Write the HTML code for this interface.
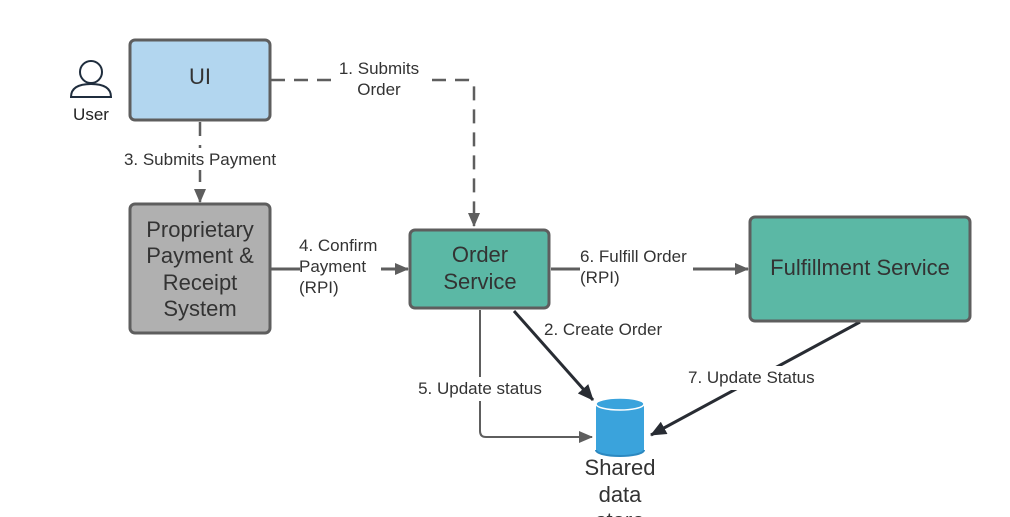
<!DOCTYPE html>
<html><head><meta charset="utf-8"><style>
html,body{margin:0;padding:0;background:#fff;}
svg{display:block;font-family:"Liberation Sans",sans-serif;}
</style></head><body>
<svg width="1010" height="517" viewBox="0 0 1010 517" xmlns="http://www.w3.org/2000/svg">
<defs>
<marker id="ag" markerWidth="14" markerHeight="14" refX="13" refY="7" orient="auto" markerUnits="userSpaceOnUse"><path d="M0,1 L14,7 L0,13 z" fill="#5e5e5e"/></marker>
<marker id="ad" markerWidth="16" markerHeight="14" refX="15" refY="7" orient="auto" markerUnits="userSpaceOnUse"><path d="M0,0 L16,7 L0,14 z" fill="#282c33"/></marker>
</defs>
<!-- user icon -->
<circle cx="91" cy="72" r="11" fill="none" stroke="#1f2d3d" stroke-width="2"/>
<path d="M71,97 Q71,84 91,84 Q111,84 111,97 Z" fill="none" stroke="#1f2d3d" stroke-width="2"/>
<text x="91" y="120" font-size="17" text-anchor="middle" fill="#222">User</text>

<!-- connectors -->
<path d="M271,80 H468 Q474,80 474,86 V226" fill="none" stroke="#5e5e5e" stroke-width="2.5" stroke-dasharray="14,9" marker-end="url(#ag)"/>
<rect x="333" y="58" width="90" height="42" fill="#fff"/>
<text x="379" y="74" font-size="17" text-anchor="middle" fill="#333">1. Submits</text>
<text x="379" y="95" font-size="17" text-anchor="middle" fill="#333">Order</text>

<path d="M200,122 V202" fill="none" stroke="#5e5e5e" stroke-width="2.5" stroke-dasharray="14,9" marker-end="url(#ag)"/>
<rect x="116" y="148" width="168" height="22" fill="#fff"/>
<text x="200" y="165" font-size="17" text-anchor="middle" fill="#333">3. Submits Payment</text>

<path d="M271,269 H300 M381,269 H408" fill="none" stroke="#5e5e5e" stroke-width="3" marker-end="url(#ag)"/>
<text x="299" y="251" font-size="17" fill="#333">4. Confirm</text>
<text x="299" y="272" font-size="17" fill="#333">Payment</text>
<text x="299" y="293" font-size="17" fill="#333">(RPI)</text>

<path d="M551,269 H580 M693,269 H748" fill="none" stroke="#5e5e5e" stroke-width="3" marker-end="url(#ag)"/>
<text x="580" y="262" font-size="17" fill="#333">6. Fulfill Order</text>
<text x="580" y="283" font-size="17" fill="#333">(RPI)</text>

<path d="M480,310 V431 Q480,437 486,437 H592" fill="none" stroke="#5e5e5e" stroke-width="2" marker-end="url(#ag)"/>
<rect x="413" y="377" width="134" height="24" fill="#fff"/>
<text x="480" y="394" font-size="17" text-anchor="middle" fill="#333">5. Update status</text>

<path d="M514,311 L593,400" fill="none" stroke="#282c33" stroke-width="3" marker-end="url(#ad)"/>
<text x="544" y="335" font-size="17" fill="#333">2. Create Order</text>

<path d="M860,322 L651,435" fill="none" stroke="#282c33" stroke-width="3" marker-end="url(#ad)"/>
<rect x="686" y="366" width="136" height="24" fill="#fff"/>
<text x="688" y="383" font-size="17" fill="#333">7. Update Status</text>

<!-- boxes -->
<rect x="130" y="40" width="140" height="80" rx="5" fill="#b2d6ef" stroke="#5e5e5e" stroke-width="3"/>
<text x="200" y="84" font-size="22" text-anchor="middle" fill="#333">UI</text>

<rect x="130" y="204" width="140" height="129" rx="5" fill="#b0b0b0" stroke="#5e5e5e" stroke-width="3"/>
<text x="200" y="237" font-size="22" text-anchor="middle" fill="#333">Proprietary</text>
<text x="200" y="263" font-size="22" text-anchor="middle" fill="#333">Payment &amp;</text>
<text x="200" y="290" font-size="22" text-anchor="middle" fill="#333">Receipt</text>
<text x="200" y="316" font-size="22" text-anchor="middle" fill="#333">System</text>

<rect x="410" y="230" width="139" height="78" rx="5" fill="#5bb8a5" stroke="#5e5e5e" stroke-width="3"/>
<text x="480" y="262" font-size="22" text-anchor="middle" fill="#333">Order</text>
<text x="480" y="289" font-size="22" text-anchor="middle" fill="#333">Service</text>

<rect x="750" y="217" width="220" height="104" rx="5" fill="#5bb8a5" stroke="#5e5e5e" stroke-width="3"/>
<text x="860" y="275" font-size="22" text-anchor="middle" fill="#333">Fulfillment Service</text>

<!-- cylinder -->
<path d="M596,404 V450 A24,6 0 0 0 644,450 V404 Z" fill="#3aa3dc"/>
<path d="M596,450 A24,6 0 0 0 644,450" fill="none" stroke="#2b88c0" stroke-width="2"/>
<ellipse cx="620" cy="404" rx="24" ry="6" fill="#3aa3dc" stroke="#fff" stroke-width="1.5"/>
<text x="620" y="475" font-size="22" text-anchor="middle" fill="#333">Shared</text>
<text x="620" y="502" font-size="22" text-anchor="middle" fill="#333">data</text>
<text x="620" y="528" font-size="22" text-anchor="middle" fill="#333">store</text>
</svg>
</body></html>
